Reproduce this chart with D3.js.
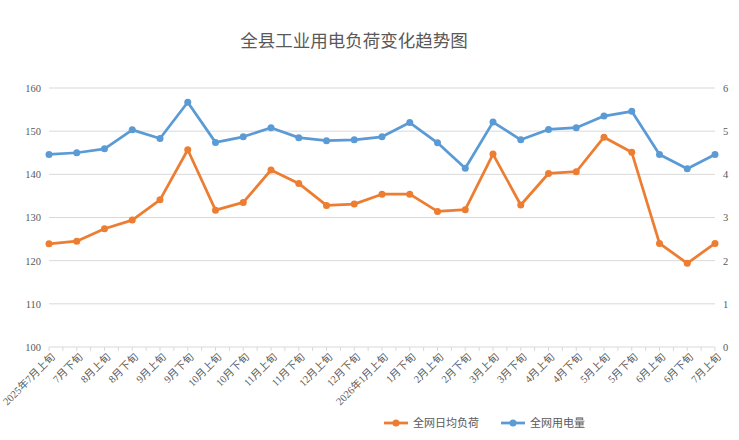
<!DOCTYPE html>
<html>
<head>
<meta charset="utf-8">
<script src="https://cdn.jsdelivr.net/npm/d3@7"></script>
<style>
  body { margin: 0; background: #fff; }
  svg text { font-family: "Liberation Serif", "Noto Sans CJK SC", serif !important; fill: #595959; }
</style>
</head>
<body>
<div id="chart"></div>
<script>
// categories (x axis)
var periods = ["2025年7月上旬", "7月下旬", "8月上旬", "8月下旬", "9月上旬", "9月下旬",
  "10月上旬", "10月下旬", "11月上旬", "11月下旬", "12月上旬", "12月下旬",
  "2026年1月上旬", "1月下旬", "2月上旬", "2月下旬", "3月上旬", "3月下旬",
  "4月上旬", "4月下旬", "5月上旬", "5月下旬", "6月上旬", "6月下旬", "7月上旬"];

// 全网日均负荷 (left axis)
var avgLoad = [123.9, 124.5, 127.4, 129.4, 134.1, 145.7, 131.7, 133.5, 141.0, 137.9, 132.8, 133.1,
  135.4, 135.4, 131.4, 131.8, 144.7, 132.9, 140.2, 140.6, 148.6, 145.1, 124.0, 119.4, 124.0];

// 全网用电量 (right axis)
var consumption = [4.46, 4.50, 4.59, 5.03, 4.83, 5.67, 4.74, 4.87, 5.08, 4.85, 4.78, 4.80,
  4.87, 5.20, 4.73, 4.14, 5.21, 4.80, 5.04, 5.08, 5.35, 5.46, 4.46, 4.13, 4.46];

var leftTicks = [100, 110, 120, 130, 140, 150, 160];
var rightTicks = [0, 1, 2, 3, 4, 5, 6];

var width = 739, height = 440;
var margin = { top: 88, right: 24, bottom: 93, left: 49 };
var plotW = width - margin.left - margin.right;
var plotH = height - margin.top - margin.bottom;

var svg = d3.select("#chart").append("svg")
  .attr("width", width)
  .attr("height", height);

var g = svg.append("g")
  .attr("transform", "translate(" + margin.left + "," + margin.top + ")");

var x = d3.scalePoint().domain(periods).range([0, plotW]);
var yLeft = d3.scaleLinear().domain([100, 160]).range([plotH, 0]);
var yRight = d3.scaleLinear().domain([0, 6]).range([plotH, 0]);

// gridlines
g.selectAll(".grid")
  .data(leftTicks.slice(1))
  .enter().append("line")
  .attr("x1", 0).attr("x2", plotW)
  .attr("y1", function(d) { return yLeft(d); })
  .attr("y2", function(d) { return yLeft(d); })
  .attr("stroke", "#d9d9d9")
  .attr("stroke-width", 1);

// bottom axis line + half-step ticks
g.append("line")
  .attr("x1", 0).attr("x2", plotW)
  .attr("y1", plotH).attr("y2", plotH)
  .attr("stroke", "#d9d9d9");

var step = x.step();
var tickPos = d3.range(0, periods.length * 2 - 1).map(function(i) { return i * step / 2; });
g.selectAll(".xtick")
  .data(tickPos)
  .enter().append("line")
  .attr("x1", function(d) { return d; })
  .attr("x2", function(d) { return d; })
  .attr("y1", plotH).attr("y2", plotH + 4)
  .attr("stroke", "#d9d9d9");

// x labels
g.selectAll(".xlabel")
  .data(periods)
  .enter().append("text")
  .attr("transform", function(d) { return "translate(" + (x(d) + 4) + "," + (plotH + 8) + ") rotate(-45)"; })
  .attr("text-anchor", "end")
  .attr("dy", "0.35em")
  .style("font-size", "10.5px")
  .text(function(d) { return d; });

// left axis labels
var leftAxis = g.append("g")
  .call(d3.axisLeft(yLeft).tickValues(leftTicks).tickSize(0).tickPadding(8))
  .attr("font-family", null);
leftAxis.select(".domain").remove();
leftAxis.selectAll("text").style("font-size", "10.5px").attr("fill", "#595959");

// right axis labels
var rightAxis = g.append("g")
  .attr("transform", "translate(" + plotW + ",0)")
  .call(d3.axisRight(yRight).tickValues(rightTicks).tickFormat(d3.format("d")).tickSize(0).tickPadding(8))
  .attr("font-family", null);
rightAxis.select(".domain").remove();
rightAxis.selectAll("text").style("font-size", "10.5px").attr("fill", "#595959");

// series
var series = [
  { name: "全网日均负荷", values: avgLoad, y: yLeft, color: "#ED7D31" },
  { name: "全网用电量", values: consumption, y: yRight, color: "#5B9BD5" }
];

series.forEach(function(s) {
  var line = d3.line()
    .x(function(d, i) { return x(periods[i]); })
    .y(function(d) { return s.y(d); });

  g.append("path")
    .datum(s.values)
    .attr("fill", "none")
    .attr("stroke", s.color)
    .attr("stroke-width", 2.75)
    .attr("stroke-linejoin", "round")
    .attr("d", line);

  g.selectAll(null)
    .data(s.values)
    .enter().append("circle")
    .attr("cx", function(d, i) { return x(periods[i]); })
    .attr("cy", function(d) { return s.y(d); })
    .attr("r", 3.5)
    .attr("fill", s.color);
});

// title
svg.append("text")
  .attr("x", 354)
  .attr("y", 47)
  .attr("text-anchor", "middle")
  .style("font-size", "17.5px")
  .text("全县工业用电负荷变化趋势图");

// legend
var legend = svg.append("g").attr("transform", "translate(384,423)");
series.forEach(function(s, i) {
  var lg = legend.append("g").attr("transform", "translate(" + (i * 117) + ",0)");
  lg.append("line")
    .attr("x1", 0).attr("x2", 24)
    .attr("stroke", s.color)
    .attr("stroke-width", 2.75);
  lg.append("circle")
    .attr("cx", 12).attr("r", 3.5)
    .attr("fill", s.color);
  lg.append("text")
    .attr("x", 29)
    .attr("dy", "0.35em")
    .style("font-size", "11px")
    .text(s.name);
});
</script>
</body>
</html>
